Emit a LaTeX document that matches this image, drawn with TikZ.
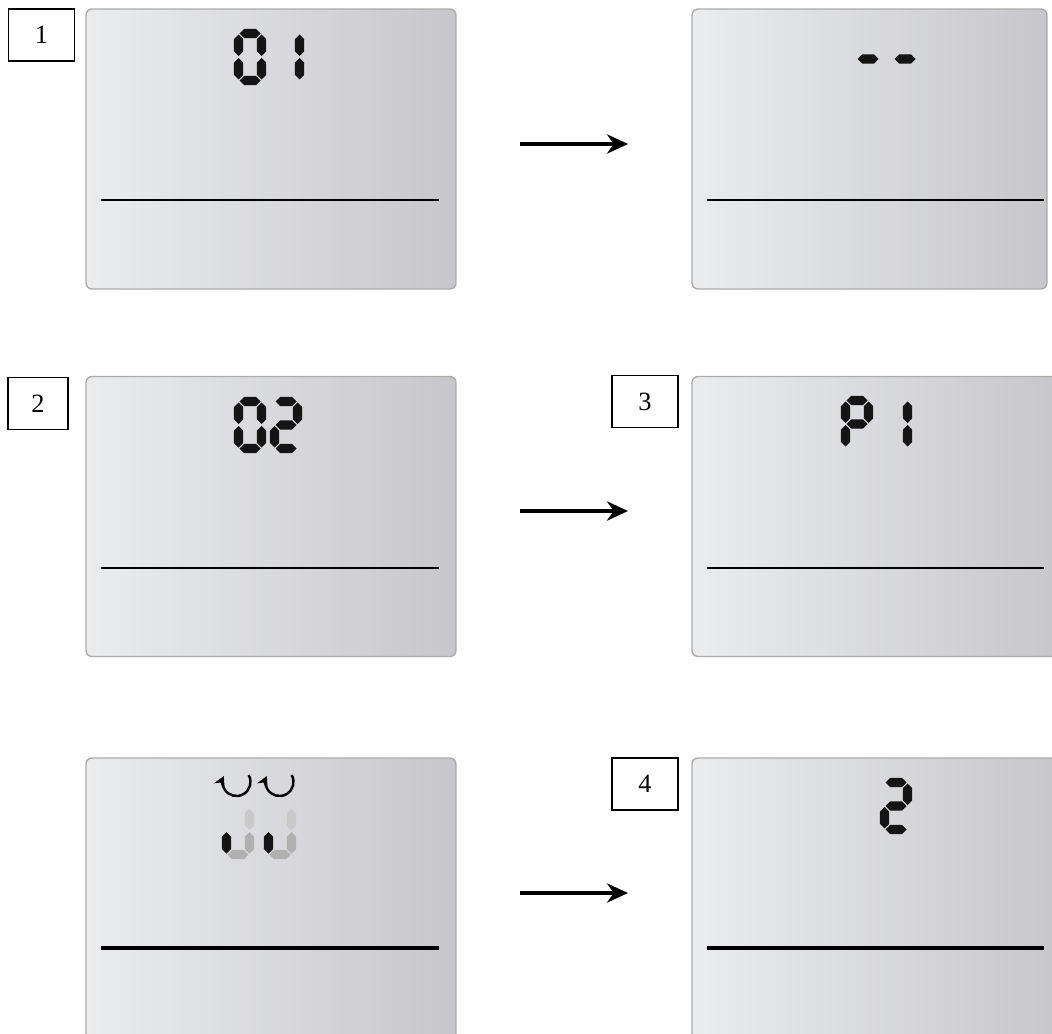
\documentclass[tikz,border=0pt]{standalone}
\usepackage{fontspec}
\setmainfont{Liberation Serif}
\usetikzlibrary{arrows.meta}

\definecolor{lcdleft}{HTML}{EBECEE}
\definecolor{lcdright}{HTML}{C7C7CB}

% one LCD segment, horizontal or vertical
\newcommand{\hseg}[4][segon]{\fill[#1] ({#2},{#4}) -- ({#2+4.6},{#4-4.6}) -- ({#3-4.6},{#4-4.6}) -- ({#3},{#4}) -- ({#3-4.6},{#4+4.6}) -- ({#2+4.6},{#4+4.6}) -- cycle;}
\newcommand{\vseg}[4][segon]{\fill[#1] ({#2},{#3}) -- ({#2+4.6},{#3+4.6}) -- ({#2+4.6},{#4-4.6}) -- ({#2},{#4}) -- ({#2-4.6},{#4-4.6}) -- ({#2-4.6},{#3+4.6}) -- cycle;}
% the seven segments of a digit whose top left corner is (#2,#3)
\newcommand{\lcdsega}[3][segon]{\hseg[#1]{#2+5.5}{#2+26.5}{#3+4.5}}
\newcommand{\lcdsegb}[3][segon]{\vseg[#1]{#2+27.5}{#3+5.5}{#3+27}}
\newcommand{\lcdsegc}[3][segon]{\vseg[#1]{#2+27.5}{#3+29}{#3+50.5}}
\newcommand{\lcdsegd}[3][segon]{\hseg[#1]{#2+5.5}{#2+26.5}{#3+51.5}}
\newcommand{\lcdsege}[3][segon]{\vseg[#1]{#2+4.5}{#3+29}{#3+50.5}}
\newcommand{\lcdsegf}[3][segon]{\vseg[#1]{#2+4.5}{#3+5.5}{#3+27}}
\newcommand{\lcdsegg}[3][segon]{\hseg[#1]{#2+5.5}{#2+26.5}{#3+28}}
\newcommand{\lcddigit}[3]{\foreach \s in {#3}{\csname lcdseg\s\endcsname{#1}{#2}}}

\tikzset{
  panel/.style={draw=gray!65, line width=0.8pt, rounded corners=1.2mm,
    left color=lcdleft, right color=lcdright,
    minimum width=7.4cm, minimum height=5.6cm, inner sep=0pt},
  divider/.style={line width=1.1pt},
  numbox/.style={draw, fill=white, line width=0.8pt, minimum width=1.32cm,
    minimum height=1.04cm, inner sep=0pt, font=\fontsize{15}{18}\selectfont},
  flow/.style={line width=1.8pt, -{Stealth[length=12pt,width=11pt]}},
  turn/.style={line width=1.4pt, -{Stealth[length=6pt,width=6.5pt]}},
  segon/.style={fill=black!92},
  seglow/.style={fill=gray!42},
  segmid/.style={fill=gray!62},
}

\begin{document}
\begin{tikzpicture}[x=0.02cm, y=-0.02cm]
\useasboundingbox (0,0) rectangle (1052,1034);
\fill[white] (0,0) rectangle (1052,1034);
\clip (0,0) rectangle (1052,1034);

% row 1
\node[panel] (p1) at (271,149) {};
\node[panel, minimum width=7.1cm] (p2) at (869.5,149) {};
\draw[divider] (101,200) -- (439,200);
\draw[divider] (707,200) -- (1044,200);
\lcddigit{234}{29}{a,b,c,d,e,f}
\lcddigit{272}{29}{b,c}
\lcdsegg{852}{31}
\lcdsegg{889}{31}
\node[numbox] (n1) at (41.5,35) {1};
\coordinate (f1s) at (520,144);
\coordinate (f1e) at (628,144);
\draw[flow] (f1s) -- (f1e);

% row 2
\node[panel] (p3) at (271,516.5) {};
\node[panel, minimum width=7.32cm] (p4) at (875,516.5) {};
\draw[divider] (101,568) -- (439,568);
\draw[divider] (707,568) -- (1044,568);
\lcddigit{234}{397}{a,b,c,d,e,f}
\lcddigit{270}{397}{a,b,g,e,d}
\lcddigit{841}{396}{a,b,f,g,e}
\lcddigit{880}{396}{b,c}
\node[numbox, minimum width=1.2cm] (n2) at (38,403.5) {2};
\node[numbox] (n3) at (645,401.5) {3};
\coordinate (f2s) at (520,511);
\coordinate (f2e) at (628,511);
\draw[flow] (f2s) -- (f2e);

% row 3
\node[panel, minimum height=5.64cm] (p5) at (271,899) {};
\node[panel, minimum width=7.32cm, minimum height=5.64cm] (p6) at (875,899) {};
\draw[divider, line width=1.8pt] (101,948) -- (439,948);
\draw[divider, line width=1.8pt] (707,948) -- (1044,948);
\draw[turn] (236.5,782) ++(-30:14) arc (-30:205:14);
\draw[turn] (279.5,782) ++(-30:14) arc (-30:205:14);
\foreach \dx in {222,264} {
  \lcdsegb[seglow]{\dx}{803}
  \lcdsegc[segmid]{\dx}{803}
  \lcdsegd[segmid]{\dx}{803}
  \lcdsege{\dx}{803}
}
\lcddigit{880}{778}{a,b,g,e,d}
\node[numbox] (n4) at (645,784) {4};
\coordinate (f3s) at (520,893);
\coordinate (f3e) at (628,893);
\draw[flow] (f3s) -- (f3e);
\end{tikzpicture}
\end{document}
